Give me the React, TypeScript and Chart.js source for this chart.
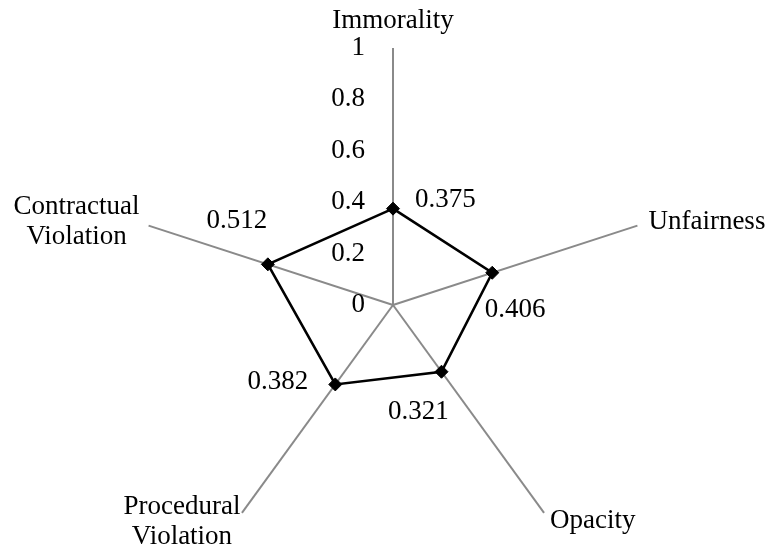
import React, { useEffect, useRef } from "react";
import { Chart, registerables } from "chart.js";

Chart.register(...registerables);

const categories = ["Immorality", "Unfairness", "Opacity", "Procedural Violation", "Contractual Violation"];
const categoryLines = [["Immorality"], ["Unfairness"], ["Opacity"], ["Procedural", "Violation"], ["Contractual", "Violation"]];
const values = [0.375, 0.406, 0.321, 0.382, 0.512];
const valueLabels = ["0.375", "0.406", "0.321", "0.382", "0.512"];
const tickValues = [0, 0.2, 0.4, 0.6, 0.8, 1];
const tickLabels = ["0", "0.2", "0.4", "0.6", "0.8", "1"];

const FONT = "27px 'Liberation Serif', 'Times New Roman', serif";
const CENTER_X = 393;
const CENTER_Y = 305;
const RADIUS = 257;

// label placement relative to point / axis end: [dx, dy, align]
const valueOffsets: [number, number, CanvasTextAlign][] = [
  [22, -9, "left"],
  [23, 37, "center"],
  [-23, 40, "center"],
  [-27, -3, "right"],
  [-31, -43, "center"],
];
const catOffsets: [number, number, CanvasTextAlign][] = [
  [0, -27, "center"],
  [11, -4, "left"],
  [6, 8, "left"],
  [-60, -6, "center"],
  [-72, -19, "center"],
];

const textPlugin = {
  id: "texts",
  afterDraw(chart: any) {
    const scale = chart.scales.r;
    const ctx = chart.ctx;
    ctx.save();
    ctx.font = FONT;
    ctx.fillStyle = "#000";
    ctx.textBaseline = "middle";
    ctx.textAlign = "right";
    tickValues.forEach((v, i) => {
      const p = scale.getPointPositionForValue(0, v);
      ctx.fillText(tickLabels[i], p.x - 28, p.y);
    });
    values.forEach((v, i) => {
      const p = scale.getPointPositionForValue(i, v);
      const [dx, dy, al] = valueOffsets[i];
      ctx.textAlign = al;
      ctx.fillText(valueLabels[i], p.x + dx, p.y + dy);
    });
    categoryLines.forEach((lines, i) => {
      const p = scale.getPointPositionForValue(i, 1);
      const [dx, dy, al] = catOffsets[i];
      ctx.textAlign = al;
      lines.forEach((ln, j) => {
        ctx.fillText(ln, p.x + dx, p.y + dy + j * 30);
      });
    });
    ctx.restore();
  },
};

export default function App() {
  const ref = useRef<HTMLCanvasElement | null>(null);
  useEffect(() => {
    if (!ref.current) return;
    const chart = new Chart(ref.current, {
      type: "radar",
      data: {
        labels: categories,
        datasets: [
          {
            data: values,
            borderColor: "#000",
            backgroundColor: "#000",
            borderWidth: 2.6,
            fill: false,
            pointStyle: "rectRot",
            pointRadius: 6.5,
            pointBackgroundColor: "#000",
            pointBorderColor: "#000",
            pointBorderWidth: 1,
          },
        ],
      },
      options: {
        animation: false,
        responsive: true,
        maintainAspectRatio: false,
        layout: { padding: 0 },
        plugins: { legend: { display: false }, tooltip: { enabled: false } },
        scales: {
          r: {
            min: 0,
            max: 1,
            ticks: { display: false, stepSize: 0.2 },
            grid: { display: false },
            angleLines: { display: true, color: "#8a8a8a", lineWidth: 2 },
            pointLabels: { display: false },
            afterFit: (s: any) => {
              s.xCenter = CENTER_X;
              s.yCenter = CENTER_Y;
              s.drawingArea = RADIUS;
            },
          } as any,
        },
      },
      plugins: [textPlugin],
    });
    return () => chart.destroy();
  }, []);
  return (
    <div style={{ position: "fixed", left: 0, top: 0, width: 765, height: 551, background: "#fff" }}>
      <canvas ref={ref} />
    </div>
  );
}
